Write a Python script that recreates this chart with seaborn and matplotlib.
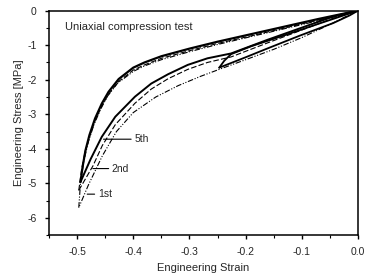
import matplotlib
matplotlib.use("Agg")
import matplotlib.pyplot as plt
import seaborn as sns
from matplotlib.ticker import MultipleLocator

# Loading branches (strain, stress in MPa)
load_1st_x = [0, -0.05, -0.10, -0.15, -0.20, -0.247, -0.28, -0.32, -0.36, -0.40, -0.43, -0.455, -0.48, -0.497]
load_1st_y = [0, -0.40, -0.78, -1.12, -1.42, -1.70, -1.90, -2.17, -2.50, -2.95, -3.50, -4.20, -5.05, -5.70]

load_2nd_x = [0, -0.044, -0.103, -0.162, -0.226, -0.268, -0.303, -0.338, -0.368, -0.397, -0.432, -0.455, -0.472, -0.497]
load_2nd_y = [0, -0.22, -0.58, -0.94, -1.34, -1.50, -1.70, -1.97, -2.27, -2.68, -3.30, -3.90, -4.50, -5.20]

load_5th_x = [0, -0.044, -0.103, -0.162, -0.226, -0.268, -0.303, -0.338, -0.368, -0.397, -0.432, -0.456, -0.476, -0.494]
load_5th_y = [0, -0.17, -0.51, -0.85, -1.24, -1.38, -1.57, -1.84, -2.11, -2.49, -3.07, -3.65, -4.30, -4.96]

# Unloading branches
unload_5th_x = [-0.494, -0.49, -0.485, -0.478, -0.468, -0.456, -0.444, -0.426, -0.40, -0.38, -0.35, -0.30, -0.25, -0.19, -0.13, -0.07, -0.035, 0]
unload_5th_y = [-4.96, -4.50, -4.04, -3.60, -3.12, -2.69, -2.35, -1.98, -1.65, -1.50, -1.32, -1.10, -0.90, -0.68, -0.46, -0.24, -0.12, 0]

unload_2nd_x = [-0.497, -0.492, -0.486, -0.478, -0.468, -0.456, -0.444, -0.426, -0.40, -0.38, -0.35, -0.30, -0.25, -0.19, -0.13, -0.07, -0.035, 0]
unload_2nd_y = [-5.20, -4.60, -4.10, -3.65, -3.18, -2.76, -2.42, -2.05, -1.72, -1.57, -1.38, -1.16, -0.95, -0.73, -0.50, -0.27, -0.14, 0]

unload_1st_x = [-0.497, -0.494, -0.488, -0.48, -0.47, -0.458, -0.446, -0.428, -0.40, -0.38, -0.35, -0.30, -0.25, -0.19, -0.13, -0.07, -0.035, 0]
unload_1st_y = [-5.70, -5.00, -4.35, -3.80, -3.30, -2.85, -2.48, -2.10, -1.76, -1.60, -1.42, -1.19, -0.98, -0.75, -0.52, -0.29, -0.15, 0]

# Small pre-cycle to 25 % strain
pre_load_x = [0, -0.015, -0.044, -0.103, -0.162, -0.20, -0.247]
pre_load_y = [0, -0.14, -0.36, -0.72, -1.10, -1.35, -1.65]
pre_unload_x = [-0.247, -0.238, -0.226, -0.19, -0.13, -0.07, 0]
pre_unload_y = [-1.65, -1.45, -1.26, -1.03, -0.71, -0.38, 0]

sns.set_style("ticks")
plt.rcParams["font.family"] = ["Liberation Sans", "DejaVu Sans"]
plt.rcParams["axes.unicode_minus"] = False

fig = plt.figure(figsize=(3.67, 2.75), dpi=100)
ax = fig.add_axes([0.1335, 0.1444, 0.842, 0.817])

dashdotdot = (0, (5, 1.5, 1, 1.5, 1, 1.5))
dashed = (0, (5, 2))

curves = [
    (load_1st_x, load_1st_y, dashdotdot, 0.8),
    (unload_1st_x, unload_1st_y, dashdotdot, 0.8),
    (load_2nd_x, load_2nd_y, dashed, 0.8),
    (unload_2nd_x, unload_2nd_y, dashed, 0.8),
    (load_5th_x, load_5th_y, "-", 1.4),
    (unload_5th_x, unload_5th_y, "-", 1.6),
    (pre_load_x, pre_load_y, "-", 1.3),
    (pre_unload_x, pre_unload_y, "-", 1.3),
]
for xs, ys, ls, lw in curves:
    sns.lineplot(x=xs, y=ys, sort=False, estimator=None, color="black",
                 linestyle=ls, linewidth=lw, ax=ax)

# Cycle labels with leader lines
for txt, pt, tpos in [("5th", (-0.453, -3.72), (-0.398, -3.72)),
                      ("2nd", (-0.472, -4.57), (-0.438, -4.57)),
                      ("1st", (-0.482, -5.31), (-0.463, -5.31))]:
    ax.annotate(txt, xy=pt, xytext=tpos, fontsize=7.5, va="center", ha="left",
                arrowprops=dict(arrowstyle="-", color="black", lw=0.8,
                                shrinkA=0, shrinkB=0))

ax.text(-0.521, -0.48, "Uniaxial compression test", fontsize=8, va="center", ha="left")

ax.set_xlim(-0.55, 0.0)
ax.set_ylim(-6.5, 0.0)
ax.xaxis.set_minor_locator(MultipleLocator(0.05))
ax.yaxis.set_major_locator(MultipleLocator(1))
ax.yaxis.set_minor_locator(MultipleLocator(0.5))
ax.set_xticks([-0.5, -0.4, -0.3, -0.2, -0.1, 0.0])
ax.set_xticklabels(["-0.5", "-0.4", "-0.3", "-0.2", "-0.1", "0.0"])
ax.tick_params(which="major", direction="out", length=3, width=1, labelsize=7.5, color="black")
ax.tick_params(axis="x", which="major", pad=5.5)
ax.tick_params(axis="y", which="major", pad=6)
ax.tick_params(which="minor", direction="out", length=2, width=0.8, color="black")
for s in ax.spines.values():
    s.set_linewidth(1.1)
    s.set_color("black")

ax.set_xlabel("Engineering Strain", fontsize=8, labelpad=4)
ax.set_ylabel("Engineering Stress [MPa]", fontsize=8, labelpad=2)

fig.savefig("out.png", dpi=100)
